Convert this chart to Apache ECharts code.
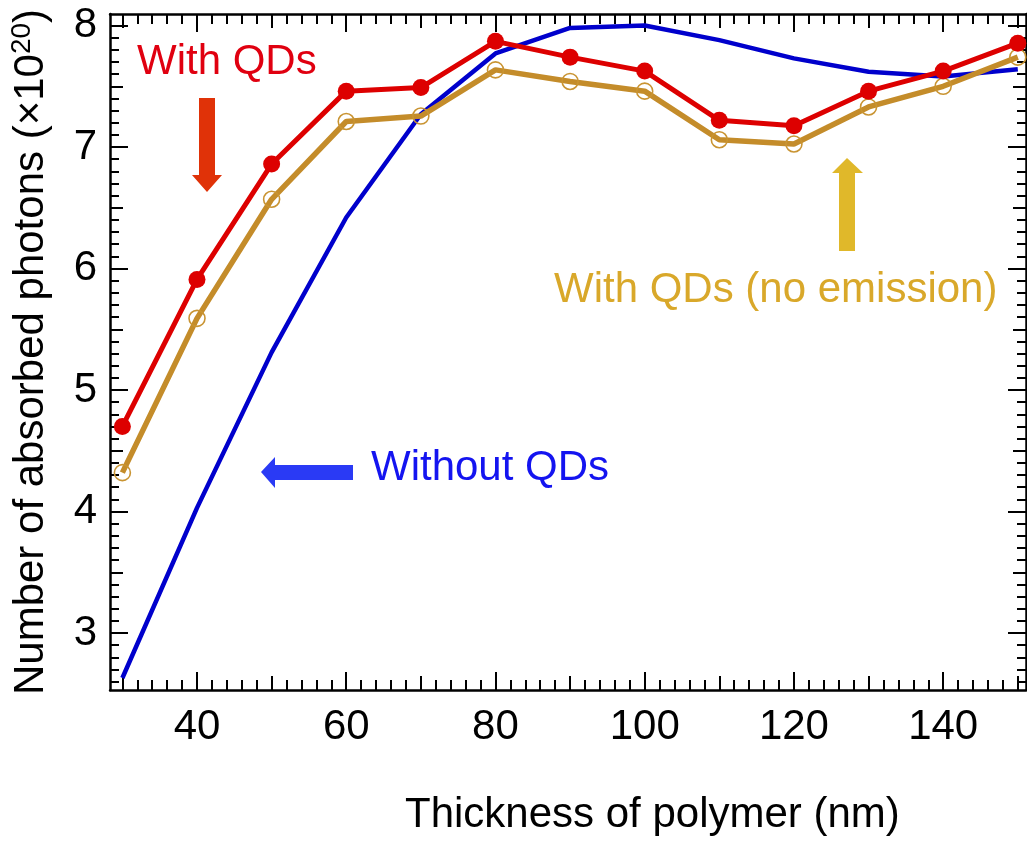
<!DOCTYPE html>
<html>
<head>
<meta charset="utf-8">
<script src="https://cdn.jsdelivr.net/npm/echarts@6/dist/echarts.min.js"></script>
<style>
html,body{margin:0;padding:0;background:#fff;}
#chart{width:1027px;height:841px;}
</style>
</head>
<body>
<div id="chart"></div>
<script>
// ---- data ----
var thickness = [30, 40, 50, 60, 70, 80, 90, 100, 110, 120, 130, 140, 150];
var withQDs = [4.70, 5.91, 6.86, 7.46, 7.49, 7.87, 7.74, 7.625, 7.22, 7.175, 7.46, 7.625, 7.855];
var withQDsNoEmission = [4.32, 5.59, 6.57, 7.21, 7.255, 7.635, 7.54, 7.46, 7.06, 7.025, 7.33, 7.50, 7.74];
var withoutQDs = [2.63, 4.03, 5.31, 6.42, 7.27, 7.77, 7.98, 8.00, 7.88, 7.73, 7.62, 7.58, 7.64];

var xMajorTicks = [40, 60, 80, 100, 120, 140];
var yMajorTicks = [3, 4, 5, 6, 7, 8];

// ---- tick helpers ----
function range(a, b, step) {
  var out = [];
  for (var v = a; v <= b + 1e-9; v += step) out.push(Math.round(v * 1000) / 1000);
  return out;
}
var xMedTicks = range(30, 150, 20);
var xMinorTicks = range(30, 150, 2);
var yMedTicks = range(3.5, 7.5, 1);
var yMinorTicks = range(2.6, 8.0, 0.1);

function pairs(xs, ys) { return xs.map(function (x, i) { return [x, ys[i]]; }); }

var FONT = 'Liberation Sans, Arial, Helvetica, sans-serif';
var XMIN = 28.34, XMAX = 151.1, YMIN = 2.531, YMAX = 8.095;

function xAx(pos, ticks, len, labels, showLine) {
  return {
    type: 'value', position: pos, min: XMIN, max: XMAX,
    axisLine: { show: showLine, onZero: false, lineStyle: { color: '#000', width: 2.5 } },
    axisTick: { show: true, inside: true, length: len, customValues: ticks, lineStyle: { color: '#000', width: 2 } },
    axisLabel: labels ? { show: true, customValues: ticks, margin: 16, fontSize: 42, color: '#000', fontFamily: FONT } : { show: false },
    splitLine: { show: false }
  };
}
function yAx(pos, ticks, len, labels, showLine, name) {
  var a = {
    type: 'value', position: pos, min: YMIN, max: YMAX,
    axisLine: { show: showLine, onZero: false, lineStyle: { color: '#000', width: 2.5 } },
    axisTick: { show: true, inside: true, length: len, customValues: ticks, lineStyle: { color: '#000', width: 2 } },
    axisLabel: labels ? { show: true, customValues: ticks, margin: 13, fontSize: 42, color: '#000', fontFamily: FONT } : { show: false },
    splitLine: { show: false }
  };
  if (name) {
    a.name = '{a|Number of absorbed photons (×10}{s|20}{a|)}';
    a.nameLocation = 'middle';
    a.nameRotate = 90;
    a.nameGap = 56;
    a.nameTextStyle = {
      rich: {
        a: { fontSize: 42, color: '#000', fontFamily: FONT, lineHeight: 46 },
        s: { fontSize: 28, color: '#000', fontFamily: FONT, padding: [0, 0, 18, 0], verticalAlign: 'bottom' }
      }
    };
  }
  return a;
}

var chart = echarts.init(document.getElementById('chart'), null, { renderer: 'canvas' });

var option = {
  backgroundColor: '#fff',
  animation: false,
  grid: { left: 110, top: 14, right: 1, bottom: 151, containLabel: false },
  xAxis: [
    xAx('bottom', xMajorTicks, 18, true, true),
    xAx('bottom', xMedTicks, 14, false, false),
    xAx('bottom', xMinorTicks, 10, false, false),
    xAx('top', xMajorTicks, 18, false, true),
    xAx('top', xMedTicks, 14, false, false),
    xAx('top', xMinorTicks, 10, false, false)
  ],
  yAxis: [
    yAx('left', yMajorTicks, 18, true, true, true),
    yAx('left', yMedTicks, 13, false, false),
    yAx('left', yMinorTicks, 9, false, false),
    yAx('right', yMajorTicks, 18, false, true),
    yAx('right', yMedTicks, 13, false, false),
    yAx('right', yMinorTicks, 9, false, false)
  ],
  series: [
    {
      name: 'Without QDs', type: 'line', xAxisIndex: 0, yAxisIndex: 0,
      data: pairs(thickness, withoutQDs), showSymbol: false, symbol: 'none',
      lineStyle: { color: '#0000cc', width: 4.5 }, z: 2
    },
    {
      name: 'With QDs (no emission)', type: 'line', xAxisIndex: 0, yAxisIndex: 0,
      data: pairs(thickness, withQDsNoEmission), symbol: 'circle', symbolSize: 16,
      itemStyle: { color: 'rgba(255,255,255,0)', borderColor: '#c99432', borderWidth: 1.6 },
      lineStyle: { color: '#c48c2a', width: 5.5 }, z: 3
    },
    {
      name: 'With QDs', type: 'line', xAxisIndex: 0, yAxisIndex: 0,
      data: pairs(thickness, withQDs), symbol: 'circle', symbolSize: 17,
      itemStyle: { color: '#dd0000', borderWidth: 0 },
      lineStyle: { color: '#dd0000', width: 5 }, z: 4
    }
  ],
  graphic: [
    { type: 'text', x: 137, y: 62, style: { text: 'With QDs', font: '42px ' + FONT, fill: '#e00010', verticalAlign: 'middle', align: 'left' }, z: 10 },
    { type: 'text', x: 371, y: 468, style: { text: 'Without QDs', font: '42px ' + FONT, fill: '#1414f0', verticalAlign: 'middle', align: 'left' }, z: 10 },
    { type: 'text', x: 554, y: 290, style: { text: 'With QDs (no emission)', font: '42px ' + FONT, fill: '#d9a82a', verticalAlign: 'middle', align: 'left' }, z: 10 },
    { type: 'text', x: 405, y: 815, style: { text: 'Thickness of polymer (nm)', font: '42px ' + FONT, fill: '#000', verticalAlign: 'middle', align: 'left' }, z: 10 },
    { type: 'polygon', shape: { points: [[199, 98], [215, 98], [215, 175], [222, 175], [207, 192], [192, 175], [199, 175]] }, style: { fill: '#e03208' }, z: 10 },
    { type: 'polygon', shape: { points: [[839, 251], [855, 251], [855, 173], [863, 173], [847, 158], [832, 173], [839, 173]] }, style: { fill: '#e0b82a' }, z: 10 },
    { type: 'polygon', shape: { points: [[353, 465], [353, 480], [275, 480], [275, 488], [261, 472], [275, 457], [275, 465]] }, style: { fill: '#2a3af5' }, z: 10 }
  ]
};
chart.setOption(option);
</script>
</body>
</html>
